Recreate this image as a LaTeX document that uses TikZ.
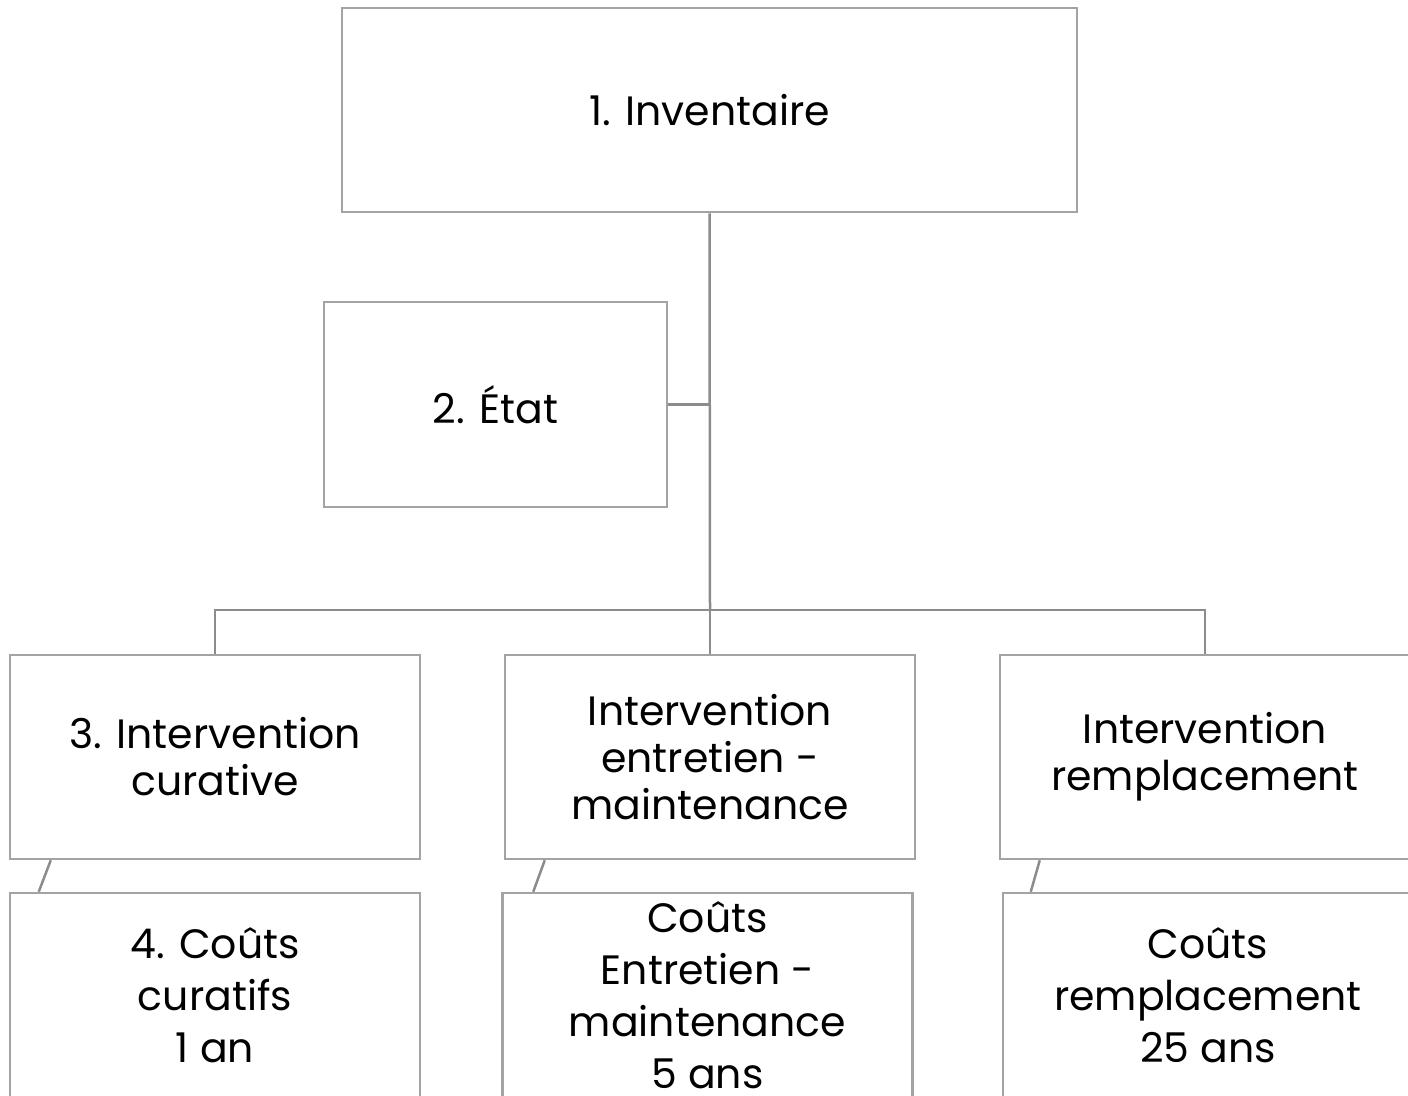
\documentclass[tikz,border=0pt]{standalone}
\usepackage{fontspec}
\setmainfont{Poppins}
\definecolor{boxline}{HTML}{A3A3A3}
\definecolor{conn}{HTML}{8C8C8C}
\begin{document}
\begin{tikzpicture}[x=1pt,y=-1pt,
  box/.style={draw=boxline,line width=2.5pt,fill=white,inner sep=0pt,align=center,
    minimum width=410pt,minimum height=204pt,text=black,
    font=\fontsize{41}{47}\selectfont},
  box4/.style={box,font=\fontsize{41}{52}\selectfont},
  link/.style={draw=conn,line width=2.5pt}]
\useasboundingbox (0,0) rectangle (1408,1095);
\clip (0,0) rectangle (1408,1095);
\node[box,minimum width=735pt] (n1) at (709.5,110) {1. Inventaire};
\node[box,minimum width=343pt,minimum height=205pt] (n2) at (495.5,404.5) {2. État};
\node[box] (n3a) at (215,757) {3. Intervention\\curative};
\node[box] (n3b) at (710,757) {Intervention\\entretien -\\maintenance};
\node[box] (n3c) at (1205,757) {Intervention\\remplacement};
\node[box4] (n4a) at (215,995) {4. Coûts\\curatifs\\1 an};
\node[box4] (n4b) at (707.5,995) {Coûts\\Entretien -\\maintenance\\5 ans};
\node[box4] (n4c) at (1208,995) {Coûts\\remplacement\\25 ans};
\coordinate (j) at (710,610);
\draw[link] (n1.south) -- (j);
\draw[link] (n2.east) -- (n2.east -| j);
\draw[link] (j) -| (n3a.north);
\draw[link] (j) -| (n3c.north);
\draw[link] (j) -- (n3b.north);
\draw[link] ([xshift=42pt]n3a.south west) -- ([xshift=30pt]n4a.north west);
\draw[link] ([xshift=41pt]n3b.south west) -- ([xshift=32pt]n4b.north west);
\draw[link] ([xshift=41pt]n3c.south west) -- ([xshift=29pt]n4c.north west);
\end{tikzpicture}
\end{document}
